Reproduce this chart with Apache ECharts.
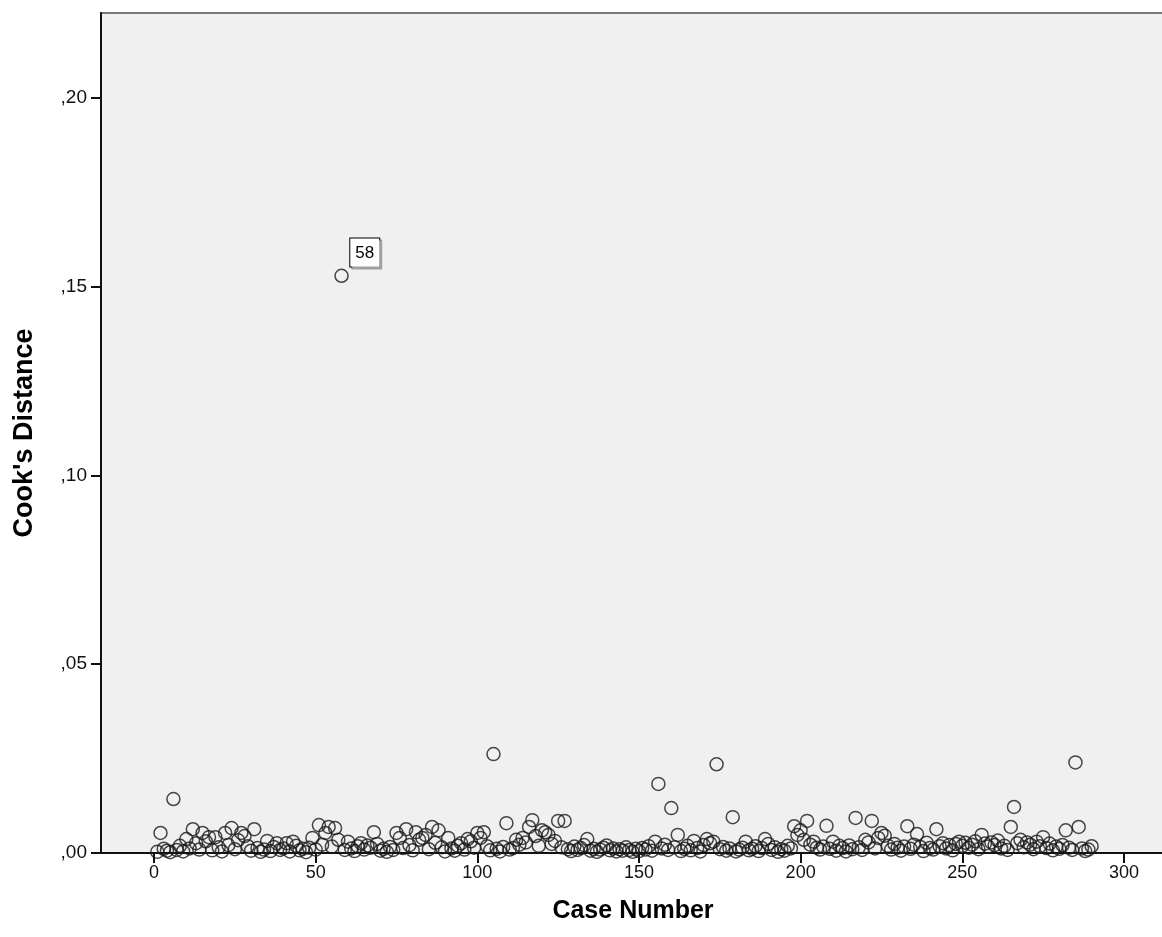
<!DOCTYPE html>
<html>
<head>
<meta charset="utf-8">
<script src="https://cdn.jsdelivr.net/npm/echarts@6/dist/echarts.min.js"></script>
<style>
html,body{margin:0;padding:0;background:#fff;}
#chart{width:1162px;height:937px;}
</style>
</head>
<body>
<div id="chart"></div>
<script>
// Cook's distance per case (case number = index + 1)
const cooksDistance = [
  0.0003,0.0053,0.0011,0.0006,0.0002,0.0143,0.0008,0.0019,0.0004,0.0037,
  0.0012,0.0063,0.0026,0.0009,0.0053,0.0031,0.0042,0.0007,0.0042,0.0015,
  0.0004,0.0053,0.0021,0.0066,0.0010,0.0034,0.0053,0.0045,0.0018,0.0006,
  0.0063,0.0013,0.0003,0.0009,0.0032,0.0005,0.0016,0.0026,0.0008,0.0012,
  0.0026,0.0004,0.0030,0.0019,0.0007,0.0011,0.0002,0.0014,0.0040,0.0009,
  0.0074,0.0022,0.0053,0.0069,0.0017,0.0066,0.0035,0.1529,0.0008,0.0030,
  0.0012,0.0005,0.0018,0.0026,0.0009,0.0020,0.0014,0.0055,0.0024,0.0006,
  0.0011,0.0003,0.0016,0.0008,0.0053,0.0040,0.0013,0.0063,0.0021,0.0007,
  0.0055,0.0035,0.0040,0.0048,0.0010,0.0069,0.0027,0.0060,0.0015,0.0004,
  0.0040,0.0012,0.0006,0.0019,0.0026,0.0009,0.0037,0.0031,0.0014,0.0053,
  0.0040,0.0055,0.0018,0.0007,0.0262,0.0011,0.0004,0.0016,0.0079,0.0009,
  0.0013,0.0035,0.0022,0.0040,0.0028,0.0069,0.0087,0.0045,0.0019,0.0060,
  0.0055,0.0048,0.0024,0.0032,0.0085,0.0015,0.0085,0.0010,0.0005,0.0017,
  0.0008,0.0013,0.0021,0.0037,0.0006,0.0011,0.0003,0.0009,0.0014,0.0020,
  0.0007,0.0012,0.0004,0.0010,0.0006,0.0015,0.0008,0.0003,0.0011,0.0005,
  0.0013,0.0009,0.0018,0.0006,0.0030,0.0183,0.0012,0.0022,0.0008,0.0119,
  0.0015,0.0048,0.0005,0.0011,0.0019,0.0007,0.0032,0.0013,0.0004,0.0021,
  0.0037,0.0026,0.0030,0.0235,0.0010,0.0016,0.0006,0.0012,0.0095,0.0004,
  0.0009,0.0014,0.0030,0.0007,0.0011,0.0018,0.0005,0.0013,0.0037,0.0024,
  0.0008,0.0015,0.0003,0.0010,0.0006,0.0019,0.0012,0.0071,0.0048,0.0060,
  0.0035,0.0085,0.0022,0.0030,0.0014,0.0009,0.0017,0.0072,0.0011,0.0030,
  0.0006,0.0019,0.0013,0.0004,0.0020,0.0010,0.0093,0.0015,0.0008,0.0035,
  0.0028,0.0085,0.0012,0.0040,0.0053,0.0046,0.0019,0.0009,0.0024,0.0014,
  0.0006,0.0017,0.0071,0.0011,0.0022,0.0050,0.0016,0.0005,0.0027,0.0013,
  0.0009,0.0063,0.0018,0.0026,0.0012,0.0021,0.0007,0.0024,0.0030,0.0019,
  0.0027,0.0014,0.0022,0.0031,0.0010,0.0048,0.0025,0.0017,0.0028,0.0021,
  0.0033,0.0012,0.0019,0.0008,0.0069,0.0122,0.0026,0.0035,0.0015,0.0028,
  0.0022,0.0010,0.0030,0.0018,0.0042,0.0013,0.0025,0.0007,0.0017,0.0011,
  0.0021,0.0060,0.0014,0.0008,0.0240,0.0069,0.0012,0.0005,0.0009,0.0018
];
const labeledCases = [58];
const xTicks = [0, 50, 100, 150, 200, 250, 300];
const yTicks = [0, 0.05, 0.10, 0.15, 0.20];
const yTickLabels = [',00', ',05', ',10', ',15', ',20'];
const xTitle = 'Case Number';
const yTitle = "Cook's Distance";

const font = 'Liberation Sans, Arial, sans-serif';
const seriesData = cooksDistance.map((v, i) => {
  const caseNo = i + 1;
  const item = { value: [caseNo, v] };
  if (labeledCases.includes(caseNo)) {
    item.label = {
      show: true,
      formatter: String(caseNo),
      position: [16, -30],
      color: '#000',
      opacity: 1,
      fontFamily: font,
      fontSize: 17,
      backgroundColor: '#ffffff',
      borderColor: '#000',
      borderWidth: 1,
      padding: [6, 5, 5, 5],
      shadowColor: '#a0a0a0',
      shadowOffsetX: 2,
      shadowOffsetY: 2,
      shadowBlur: 0
    };
  }
  return item;
});

const chart = echarts.init(document.getElementById('chart'), null, { renderer: 'canvas' });
chart.setOption({
  animation: false,
  backgroundColor: '#fff',
  grid: {
    left: 101, right: -3, top: 13, bottom: 84,
    outerBoundsMode: 'none',
    containLabel: false,
    show: true,
    backgroundColor: '#f0f0f0',
    borderColor: '#777',
    borderWidth: 2
  },
  xAxis: {
    type: 'value',
    min: -16.4,
    max: 312.7,
    name: xTitle,
    nameLocation: 'middle',
    nameGap: 46,
    nameTextStyle: { fontFamily: font, fontWeight: 'bold', fontSize: 25, color: '#000' },
    axisLine: { show: true, onZero: false, lineStyle: { color: '#111', width: 2 } },
    axisTick: { show: true, length: 10, customValues: xTicks, lineStyle: { color: '#111', width: 2 } },
    axisLabel: { customValues: xTicks, margin: 11, fontFamily: font, fontSize: 18, color: '#111' },
    splitLine: { show: false }
  },
  yAxis: {
    type: 'value',
    min: 0,
    max: 0.2225,
    name: yTitle,
    nameLocation: 'middle',
    nameGap: 63,
    nameTextStyle: { fontFamily: font, fontWeight: 'bold', fontSize: 27, color: '#000' },
    axisLine: { show: true, onZero: false, lineStyle: { color: '#111', width: 2 } },
    axisTick: { show: true, length: 10, customValues: yTicks, lineStyle: { color: '#111', width: 2 } },
    axisLabel: {
      customValues: yTicks,
      margin: 14,
      fontFamily: font, fontSize: 19, color: '#111',
      formatter: v => {
        const idx = yTicks.findIndex(t => Math.abs(t - v) < 1e-9);
        return idx >= 0 ? yTickLabels[idx] : '';
      }
    },
    splitLine: { show: false }
  },
  series: [{
    type: 'scatter',
    data: seriesData,
    symbol: 'circle',
    symbolSize: 13,
    itemStyle: { color: 'rgba(0,0,0,0)', borderColor: '#1a1a1a', borderWidth: 1.5 },
    emphasis: { disabled: true }
  }]
});
</script>
</body>
</html>
